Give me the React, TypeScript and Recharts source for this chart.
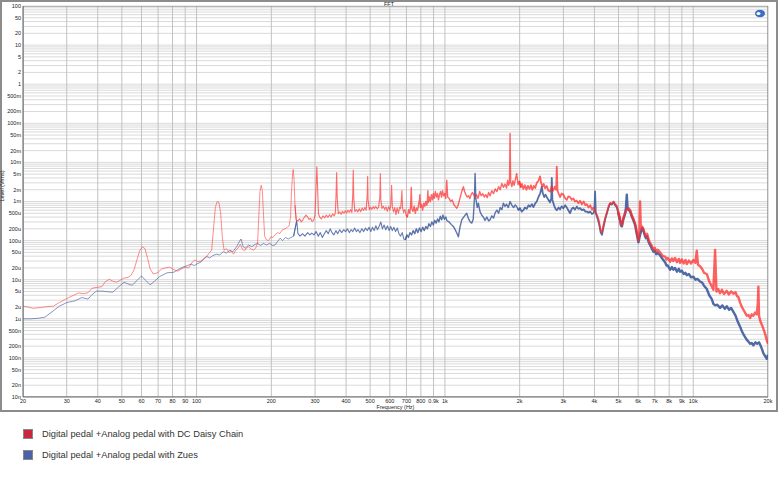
import React from 'react';
import { LineChart, Line, XAxis, YAxis, CartesianGrid, ReferenceArea } from 'recharts';

// Frequency (Hz), level (Vrms)
const DAISY_CHAIN: [number, number][] = [
  [20, 2.1e-6], [21, 2.0e-6], [22, 1.85e-6], [23.5, 1.95e-6], [25, 2.05e-6], [26.5, 2.1e-6], [28, 2.6e-6], [30, 3.3e-6],
  [32, 4.0e-6], [33.5, 4.6e-6], [35, 4.4e-6], [36.5, 4.6e-6], [38, 6.1e-6], [40, 6.4e-6], [41.5, 6.6e-6], [43, 9e-6],
  [44.5, 1.02e-5], [46, 9.2e-6], [47.5, 8.6e-6], [49, 9.5e-6], [51, 1.1e-5], [53, 1.15e-5], [54.5, 1.3e-5], [56, 1.8e-5],
  [57.5, 3.2e-5], [59, 5.5e-5], [60.5, 7.0e-5], [62, 6.2e-5], [63.5, 3.5e-5], [65, 1.9e-5], [67, 1.4e-5], [68.5, 1.45e-5],
  [70, 1.55e-5], [72, 1.85e-5], [75, 2.0e-5], [78, 2.1e-5], [81, 1.8e-5], [84, 1.65e-5], [87, 1.9e-5], [90, 2.1e-5],
  [93, 2.0e-5], [96, 2.8e-5], [98.5, 3.2e-5], [101, 2.9e-5], [104, 3.0e-5], [107, 3.5e-5], [110, 4.0e-5], [113, 5.0e-5],
  [115, 5.7e-5], [117, 2.0e-4], [119, 7.0e-4], [121, 1.0e-3], [123, 9.5e-4], [125, 5.0e-4], [127, 1.2e-4], [129, 5.7e-5],
  [132, 6.2e-5], [135, 5.0e-5], [138, 5.3e-5], [141, 4.5e-5], [144, 5.7e-5], [147, 6.5e-5], [150, 8.0e-5], [153, 6.0e-5],
  [156, 5.5e-5], [159, 6.5e-5], [162, 7.0e-5], [166, 6.0e-5], [170, 5.7e-5], [173, 6.5e-5], [176, 8.5e-5], [178, 4.0e-4],
  [180, 1.8e-3], [182, 2.6e-3], [184, 1.9e-3], [186, 4.5e-4], [188, 1.3e-4], [191, 1.05e-4], [195, 1.0e-4], [199, 1.25e-4],
  [203, 1.2e-4], [207, 1.4e-4], [212, 1.6e-4], [216, 1.5e-4], [222, 1.9e-4], [227, 2.0e-4], [232, 2.2e-4], [236, 2.4e-4],
  [239, 4.0e-4], [241, 1.6e-3], [243.5, 5.0e-3], [245, 6.6e-3], [247, 3.5e-3], [249, 8.0e-4], [252, 3.3e-4], [256, 3.2e-4],
  [260, 3.6e-4], [264, 3.0e-4], [268, 3.4e-4], [272, 4.0e-4], [276, 4.5e-4], [280, 4.0e-4], [284, 3.5e-4], [288, 3.7e-4],
  [292, 3.1e-4], [296, 3.3e-4], [300, 4.5e-4], [302.5, 2.0e-3], [305, 7.7e-3], [307, 2.5e-3], [309.5, 5.0e-4], [313, 4.0e-4],
  [318, 3.6e-4], [323, 4.3e-4], [328, 3.8e-4], [333, 4.5e-4], [338, 3.9e-4], [343, 4.6e-4], [348, 4.0e-4], [353, 4.8e-4],
  [358, 4.3e-4], [362, 5.0e-4], [364.5, 1.5e-3], [366.5, 5.5e-3], [368.5, 1.2e-3], [372, 4.9e-4], [377, 5.4e-4], [382, 4.7e-4],
  [387, 5.6e-4], [392, 5.0e-4], [397, 5.8e-4], [402, 5.1e-4], [407, 6.0e-4], [412, 5.3e-4], [417, 6.2e-4], [422, 5.2e-4],
  [425.5, 1.5e-3], [427.5, 6.4e-3], [429.5, 1.2e-3], [434, 5.5e-4], [440, 6.2e-4], [446, 5.4e-4], [452, 6.5e-4], [458, 5.5e-4],
  [464, 6.8e-4], [470, 5.9e-4], [476, 7.0e-4], [482, 6.0e-4], [486.5, 1.5e-3], [488.5, 4.4e-3], [490.5, 1.1e-3], [496, 6.2e-4],
  [502, 7.1e-4], [508, 6.3e-4], [514, 7.4e-4], [520, 6.5e-4], [527, 7.5e-4], [534, 6.4e-4], [541, 7.3e-4], [547, 1.3e-3],
  [549.5, 5.2e-3], [552, 1.1e-3], [558, 6.6e-4], [565, 7.6e-4], [572, 6.2e-4], [579, 7.3e-4], [586, 5.6e-4], [593, 7.4e-4],
  [600, 6.0e-4], [605, 8.0e-4], [610, 2.6e-3], [614, 7.5e-4], [621, 5.4e-4], [628, 7.0e-4], [635, 4.6e-4], [642, 6.9e-4],
  [650, 5.0e-4], [657, 7.2e-4], [663, 6.5e-4], [667, 1.0e-3], [671, 1.9e-3], [675, 7.0e-4], [682, 5.2e-4], [690, 6.3e-4],
  [698, 4.5e-4], [706, 4.0e-4], [714, 6.2e-4], [722, 5.0e-4], [728, 8.0e-4], [732, 2.3e-3], [736, 6.5e-4], [744, 5.6e-4],
  [752, 7.6e-4], [760, 5.0e-4], [768, 6.8e-4], [776, 6.0e-4], [784, 8.5e-4], [790, 1.1e-3], [793, 1.5e-3], [797, 7.0e-4],
  [805, 8.5e-4], [813, 6.0e-4], [822, 9.0e-4], [830, 7.5e-4], [838, 1.0e-3], [846, 8.0e-4], [851, 1.2e-3], [854, 1.9e-3],
  [858, 9.5e-4], [866, 1.3e-3], [874, 1.0e-3], [882, 1.5e-3], [890, 1.1e-3], [898, 1.6e-3], [906, 1.2e-3], [915, 1.8e-3],
  [924, 1.3e-3], [933, 1.6e-3], [942, 1.1e-3], [951, 1.5e-3], [960, 1.8e-3], [969, 1.3e-3], [978, 1.9e-3], [988, 1.4e-3],
  [998, 1.6e-3], [1008, 1.2e-3], [1017, 3.5e-3], [1026, 1.3e-3], [1040, 1.2e-3], [1055, 1.0e-3], [1070, 1.1e-3], [1085, 8.5e-4],
  [1100, 7.5e-4], [1116, 6.7e-4], [1130, 8.0e-4], [1145, 1.1e-3], [1160, 1.5e-3], [1175, 2.0e-3], [1187, 2.4e-3], [1200, 1.8e-3],
  [1215, 1.5e-3], [1230, 1.3e-3], [1245, 1.4e-3], [1260, 1.2e-3], [1275, 1.5e-3], [1290, 1.7e-3], [1305, 1.5e-3], [1320, 1.3e-3],
  [1340, 1.5e-3], [1360, 1.2e-3], [1380, 1.8e-3], [1400, 1.4e-3], [1420, 1.6e-3], [1440, 1.3e-3], [1460, 1.5e-3], [1480, 1.25e-3],
  [1500, 1.7e-3], [1520, 1.4e-3], [1545, 1.9e-3], [1570, 1.6e-3], [1595, 2.1e-3], [1620, 1.8e-3], [1645, 2.4e-3], [1670, 2.0e-3],
  [1695, 2.9e-3], [1720, 2.3e-3], [1745, 2.8e-3], [1770, 2.2e-3], [1790, 3.5e-3], [1805, 2.6e-3], [1820, 3.0e-3], [1830, 5.5e-2],
  [1840, 3.2e-3], [1860, 2.4e-3], [1880, 3.4e-3], [1900, 2.6e-3], [1925, 3.8e-3], [1946, 5.2e-3], [1970, 2.7e-3], [1995, 3.3e-3],
  [2020, 2.3e-3], [2045, 2.8e-3], [2070, 2.1e-3], [2100, 2.6e-3], [2130, 2.0e-3], [2160, 2.5e-3], [2190, 2.1e-3], [2220, 2.6e-3],
  [2250, 2.0e-3], [2280, 2.5e-3], [2310, 2.2e-3], [2344, 3.0e-3], [2380, 3.4e-3], [2417, 4.4e-3], [2440, 3.0e-3], [2470, 2.4e-3],
  [2500, 2.8e-3], [2530, 2.2e-3], [2571, 2.5e-3], [2610, 1.9e-3], [2652, 1.8e-3], [2690, 2.4e-3], [2730, 1.9e-3], [2770, 2.4e-3],
  [2805, 2.0e-3], [2822, 7.8e-3], [2840, 1.9e-3], [2870, 1.6e-3], [2910, 1.3e-3], [2950, 1.6e-3], [3000, 1.5e-3], [3050, 1.2e-3],
  [3096, 1.1e-3], [3140, 1.35e-3], [3192, 1.3e-3], [3240, 1.1e-3], [3292, 1.2e-3], [3340, 1.0e-3], [3396, 1.05e-3], [3450, 9.0e-4],
  [3502, 1.05e-3], [3560, 8.5e-4], [3620, 1.0e-3], [3680, 8.0e-4], [3726, 8.5e-4], [3790, 7.0e-4], [3850, 8.0e-4], [3910, 6.2e-4],
  [3962, 7.0e-4], [4030, 5.5e-4], [4100, 4.5e-4], [4170, 3.2e-4], [4240, 1.8e-4], [4290, 1.6e-4], [4350, 2.5e-4], [4420, 3.8e-4],
  [4490, 5.2e-4], [4560, 7.5e-4], [4626, 9.2e-4], [4700, 8.8e-4], [4780, 1.0e-3], [4850, 8.5e-4], [4920, 7.8e-4], [4990, 5.5e-4],
  [5060, 3.8e-4], [5120, 2.6e-4], [5160, 2.5e-4], [5230, 3.8e-4], [5316, 5.2e-4], [5400, 6.2e-4], [5480, 6.8e-4], [5568, 6.0e-4],
  [5650, 4.5e-4], [5740, 3.6e-4], [5832, 2.8e-4], [5920, 1.7e-4], [6014, 1.0e-4], [6070, 1.6e-4], [6108, 1.0e-3], [6150, 2.0e-4],
  [6220, 2.3e-4], [6298, 2.0e-4], [6380, 1.5e-4], [6450, 1.3e-4], [6520, 1.5e-4], [6598, 1.1e-4], [6680, 9.0e-5], [6760, 8.0e-5],
  [6830, 7.0e-5], [6912, 6.0e-5], [7000, 6.5e-5], [7100, 5.2e-5], [7200, 5.8e-5], [7354, 5.0e-5], [7450, 4.5e-5], [7550, 4.0e-5],
  [7704, 3.9e-5], [7800, 3.3e-5], [7900, 3.6e-5], [8070, 2.9e-5], [8200, 3.5e-5], [8318, 3.0e-5], [8450, 3.6e-5], [8600, 2.8e-5],
  [8750, 3.4e-5], [8852, 2.7e-5], [9000, 3.3e-5], [9150, 2.6e-5], [9300, 3.2e-5], [9420, 2.5e-5], [9600, 3.1e-5], [9800, 2.6e-5],
  [10012, 3.2e-5], [10200, 2.7e-5], [10334, 5.5e-5], [10450, 2.4e-5], [10654, 2.2e-5], [10850, 1.9e-5], [11050, 1.5e-5], [11338, 1.4e-5],
  [11600, 9.0e-6], [11876, 6.8e-6], [12050, 5.5e-6], [12246, 5.8e-5], [12400, 5.0e-6], [12600, 5.8e-6], [12826, 4.5e-6], [13050, 5.5e-6],
  [13300, 4.3e-6], [13648, 5.2e-6], [13900, 4.2e-6], [14200, 5.0e-6], [14510, 4.4e-6], [14800, 4.8e-6], [15000, 3.8e-6], [15200, 3.6e-6],
  [15440, 2.6e-6], [15700, 2.0e-6], [15920, 1.7e-6], [16200, 1.4e-6], [16430, 1.2e-6], [16700, 1.25e-6], [16942, 1.05e-6], [17200, 1.3e-6],
  [17468, 1.2e-6], [17750, 1.45e-6], [18028, 1.3e-6], [18200, 2.5e-6], [18296, 6.6e-6], [18400, 1.2e-6], [18588, 9.0e-7], [18900, 7.0e-7],
  [19166, 5.5e-7], [19500, 4.0e-7], [19780, 2.8e-7], [20000, 2.3e-7],
];

const ZUES: [number, number][] = [
  [20, 1.0e-6], [21.5, 1.0e-6], [23, 1.03e-6], [24.5, 1.1e-6], [26.5, 1.6e-6], [28, 2.1e-6], [30, 2.6e-6], [32.5, 2.9e-6],
  [34.5, 3.5e-6], [36.5, 3.2e-6], [38, 4.2e-6], [39.5, 5.1e-6], [42, 5.1e-6], [44, 4.9e-6], [46, 4.8e-6], [48.5, 6.5e-6],
  [51, 8.6e-6], [53, 7.8e-6], [55, 7.2e-6], [57.5, 9.5e-6], [60, 1.25e-5], [62.5, 9.5e-6], [65, 7.4e-6], [67.5, 9.0e-6],
  [71, 1.2e-5], [76, 1.5e-5], [81, 1.55e-5], [84, 1.8e-5], [88, 2.1e-5], [92, 2.3e-5], [95, 2.5e-5], [98, 2.3e-5],
  [101, 2.6e-5], [104, 2.8e-5], [107, 3.4e-5], [110, 3.9e-5], [113, 3.6e-5], [116, 4.1e-5], [120, 4.5e-5], [124, 4.3e-5],
  [128, 5.2e-5], [132, 4.8e-5], [136, 5.7e-5], [140, 5.2e-5], [145, 7.0e-5], [148, 9.0e-5], [151, 1.1e-4], [154, 7.0e-5],
  [157, 6.4e-5], [162, 7.7e-5], [167, 7.0e-5], [172, 8.0e-5], [176, 8.5e-5], [181, 7.5e-5], [186, 8.5e-5], [191, 7.7e-5],
  [197, 8.5e-5], [202, 7.5e-5], [207, 7.7e-5], [212, 9.5e-5], [217, 1.15e-4], [222, 1.0e-4], [228, 1.2e-4], [234, 1.1e-4],
  [240, 1.2e-4], [246, 1.3e-4], [250, 2.2e-4], [253, 3.2e-4], [256, 1.5e-4], [261, 1.3e-4], [267, 1.5e-4], [273, 1.3e-4],
  [280, 1.6e-4], [286, 1.4e-4], [291, 1.55e-4], [297, 1.4e-4], [303, 1.7e-4], [309, 1.3e-4], [315, 1.6e-4], [321, 1.2e-4],
  [327, 1.5e-4], [333, 1.8e-4], [339, 1.5e-4], [345, 2.0e-4], [351, 1.6e-4], [357, 1.4e-4], [364, 1.8e-4], [370, 1.5e-4],
  [377, 1.9e-4], [384, 1.6e-4], [391, 1.9e-4], [398, 1.7e-4], [405, 2.0e-4], [412, 1.6e-4], [419, 1.9e-4], [426, 1.7e-4],
  [433, 2.1e-4], [440, 1.7e-4], [447, 1.9e-4], [455, 1.6e-4], [463, 2.0e-4], [471, 1.7e-4], [479, 2.1e-4], [487, 1.8e-4],
  [495, 2.2e-4], [503, 1.7e-4], [511, 2.2e-4], [519, 1.8e-4], [527, 2.4e-4], [535, 1.9e-4], [543, 2.3e-4], [552, 3.0e-4],
  [560, 2.0e-4], [569, 2.5e-4], [578, 1.9e-4], [587, 2.4e-4], [596, 1.8e-4], [605, 2.3e-4], [614, 1.8e-4], [623, 2.2e-4],
  [633, 1.7e-4], [643, 2.1e-4], [653, 1.5e-4], [663, 1.3e-4], [673, 1.6e-4], [683, 1.1e-4], [693, 1.05e-4], [703, 1.4e-4],
  [713, 1.2e-4], [723, 1.6e-4], [734, 1.4e-4], [745, 1.8e-4], [756, 1.5e-4], [767, 2.0e-4], [778, 1.6e-4], [790, 2.1e-4],
  [802, 1.7e-4], [814, 2.2e-4], [826, 1.8e-4], [838, 2.3e-4], [850, 2.0e-4], [862, 2.7e-4], [874, 2.3e-4], [886, 3.0e-4],
  [898, 2.5e-4], [910, 3.3e-4], [922, 2.8e-4], [934, 3.6e-4], [946, 3.0e-4], [958, 4.2e-4], [970, 3.4e-4], [982, 4.5e-4],
  [995, 3.5e-4], [1008, 4.0e-4], [1020, 3.2e-4], [1040, 3.0e-4], [1060, 2.6e-4], [1081, 2.3e-4], [1100, 1.9e-4], [1120, 1.5e-4],
  [1133, 1.25e-4], [1150, 2.2e-4], [1169, 3.4e-4], [1190, 4.0e-4], [1210, 4.6e-4], [1224, 5.0e-4], [1245, 3.6e-4], [1265, 3.0e-4],
  [1283, 2.8e-4], [1300, 3.5e-4], [1315, 1.2e-3], [1323, 5.2e-3], [1332, 1.2e-3], [1350, 7.0e-4], [1364, 9.0e-4], [1385, 5.5e-4],
  [1405, 4.5e-4], [1428, 4.0e-4], [1450, 3.3e-4], [1475, 4.0e-4], [1500, 3.2e-4], [1520, 3.4e-4], [1545, 4.3e-4], [1570, 3.8e-4],
  [1595, 5.2e-4], [1618, 6.0e-4], [1645, 5.0e-4], [1670, 7.0e-4], [1695, 6.2e-4], [1720, 9.0e-4], [1745, 7.5e-4], [1770, 8.5e-4],
  [1800, 7.0e-4], [1830, 1.0e-3], [1860, 8.0e-4], [1890, 7.0e-4], [1920, 8.2e-4], [1946, 7.4e-4], [1975, 6.0e-4], [2005, 6.8e-4],
  [2039, 5.5e-4], [2069, 6.0e-4], [2100, 7.0e-4], [2136, 6.5e-4], [2170, 8.0e-4], [2203, 7.4e-4], [2240, 8.5e-4], [2272, 7.2e-4],
  [2310, 9.0e-4], [2344, 1.0e-3], [2380, 1.3e-3], [2417, 1.6e-3], [2440, 2.0e-3], [2455, 2.4e-3], [2480, 1.6e-3], [2510, 1.3e-3],
  [2540, 1.5e-3], [2571, 1.3e-3], [2610, 1.1e-3], [2652, 9.5e-4], [2680, 1.2e-3], [2694, 4.0e-3], [2710, 1.1e-3], [2750, 8.0e-4],
  [2790, 6.5e-4], [2822, 6.0e-4], [2870, 7.0e-4], [2910, 6.3e-4], [2950, 7.5e-4], [3000, 6.7e-4], [3050, 8.0e-4], [3096, 7.0e-4],
  [3140, 6.0e-4], [3192, 5.0e-4], [3240, 6.5e-4], [3292, 7.0e-4], [3340, 6.2e-4], [3396, 7.4e-4], [3450, 6.5e-4], [3502, 6.8e-4],
  [3560, 6.0e-4], [3620, 6.3e-4], [3680, 5.5e-4], [3726, 5.5e-4], [3790, 5.2e-4], [3850, 5.5e-4], [3910, 4.8e-4], [3962, 5.0e-4],
  [4000, 6.0e-4], [4025, 1.8e-3], [4050, 5.0e-4], [4100, 4.0e-4], [4170, 2.8e-4], [4240, 1.6e-4], [4290, 1.4e-4], [4350, 2.2e-4],
  [4420, 3.5e-4], [4490, 5.0e-4], [4560, 7.0e-4], [4626, 8.8e-4], [4700, 8.4e-4], [4780, 9.5e-4], [4850, 8.0e-4], [4920, 7.2e-4],
  [4990, 5.0e-4], [5060, 3.5e-4], [5120, 2.4e-4], [5160, 2.3e-4], [5230, 3.5e-4], [5316, 4.8e-4], [5360, 7.0e-4], [5400, 1.5e-3],
  [5440, 6.5e-4], [5480, 6.3e-4], [5568, 5.6e-4], [5650, 4.2e-4], [5740, 3.3e-4], [5832, 2.5e-4], [5920, 1.5e-4], [6014, 9.0e-5],
  [6108, 1.4e-4], [6220, 2.1e-4], [6298, 1.8e-4], [6380, 1.35e-4], [6450, 1.15e-4], [6520, 1.3e-4], [6598, 9.5e-5], [6680, 8.0e-5],
  [6760, 7.0e-5], [6830, 6.0e-5], [6912, 5.2e-5], [7000, 5.5e-5], [7100, 4.5e-5], [7200, 4.8e-5], [7354, 4.2e-5], [7450, 3.7e-5],
  [7550, 3.3e-5], [7704, 2.8e-5], [7800, 2.3e-5], [7900, 2.3e-5], [8070, 1.8e-5], [8200, 2.1e-5], [8318, 1.8e-5], [8450, 2.0e-5],
  [8600, 1.6e-5], [8750, 1.9e-5], [8852, 1.6e-5], [9000, 1.7e-5], [9150, 1.4e-5], [9300, 1.5e-5], [9420, 1.3e-5], [9600, 1.4e-5],
  [9800, 1.15e-5], [10012, 1.2e-5], [10200, 1.0e-5], [10400, 1.05e-5], [10654, 9.0e-6], [10850, 8.5e-6], [11050, 7.0e-6], [11338, 5.8e-6],
  [11600, 4.0e-6], [11876, 3.2e-6], [12052, 2.4e-6], [12246, 2.2e-6], [12500, 2.3e-6], [12826, 1.9e-6], [13100, 2.2e-6], [13400, 1.8e-6],
  [13648, 2.1e-6], [13950, 1.7e-6], [14200, 1.9e-6], [14510, 1.5e-6], [14800, 1.2e-6], [15100, 8.5e-7], [15440, 6.3e-7], [15700, 4.8e-7],
  [16000, 3.8e-7], [16430, 2.9e-7], [16700, 2.6e-7], [16942, 2.3e-7], [17200, 2.4e-7], [17468, 2.1e-7], [17800, 2.5e-7], [18100, 2.3e-7],
  [18400, 2.5e-7], [18588, 2.2e-7], [18900, 1.7e-7], [19166, 1.3e-7], [19500, 1.1e-7], [19780, 9.5e-8], [20000, 1.2e-7],
];

const X_TICKS = [20, 30, 40, 50, 60, 70, 80, 90, 100, 200, 300, 400, 500, 600, 700, 800, 900, 1000, 2000, 3000, 4000, 5000, 6000, 7000, 8000, 9000, 10000, 20000];
const X_TICK_LABELS = ['20', '30', '40', '50', '60', '70', '80', '90', '100', '200', '300', '400', '500', '600', '700', '800', '0.9k', '1k', '2k', '3k', '4k', '5k', '6k', '7k', '8k', '9k', '10k', '20k'];

const Y_LABEL_TICKS = [1e-8, 2e-8, 5e-8, 1e-7, 2e-7, 5e-7, 1e-6, 2e-6, 5e-6, 1e-5, 2e-5, 5e-5, 1e-4, 2e-4, 5e-4, 1e-3, 2e-3, 5e-3, 1e-2, 2e-2, 5e-2, 0.1, 0.2, 0.5, 1, 2, 5, 10, 20, 50, 100];
const Y_TICK_LABELS = ['10n', '20n', '50n', '100n', '200n', '500n', '1u', '2u', '5u', '10u', '20u', '50u', '100u', '200u', '500u', '1m', '2m', '5m', '10m', '20m', '50m', '100m', '200m', '500m', '1', '2', '5', '10', '20', '50', '100'];
const Y_DECADES = [1e-8, 1e-7, 1e-6, 1e-5, 1e-4, 1e-3, 1e-2, 0.1, 1, 10];
const Y_MULTIPLIERS = [1, 2, 3, 4, 5, 6, 7, 8, 9];

const SERIES_NAMES = ['Digital pedal +Analog pedal with DC Daisy Chain', 'Digital pedal +Analog pedal with Zues'];

// frequency bands drawn with progressively heavier traces (the FFT trace gets denser upward)
const BAND_EDGES = [20, 250, 700, 2000, 5000, 20000];
const BAND_WIDTHS = [0.9, 1.1, 1.4, 1.8, 2.4];
const RED_OPACITY = [0.6, 0.68, 0.72, 0.75, 0.75];
const BLUE_OPACITY = [0.7, 0.8, 0.85, 0.88, 0.9];

const yGridTicks = [...Y_DECADES.flatMap((d) => Y_MULTIPLIERS.map((m) => Number((m * d).toPrecision(3)))), 100];

const toPoints = (s: [number, number][]) => s.map(([f, v]) => ({ f, v }));
const bandSlice = (s: [number, number][], lo: number, hi: number) => {
  const idx = s.map(([f], i) => (f >= lo && f <= hi ? i : -1)).filter((i) => i >= 0);
  const start = Math.max(0, idx[0] - 1);
  const end = Math.min(s.length - 1, idx[idx.length - 1] + 1);
  return toPoints(s.slice(start, end + 1));
};

const near = (a: number, b: number) => Math.abs(a - b) <= Math.abs(b) * 1e-6;
const fmtX = (v: number) => {
  const i = X_TICKS.findIndex((t) => near(v, t));
  return i >= 0 ? X_TICK_LABELS[i] : '';
};
const fmtY = (v: number) => {
  const i = Y_LABEL_TICKS.findIndex((t) => near(v, t));
  return i >= 0 ? Y_TICK_LABELS[i] : '';
};

const FONT = '"Liberation Sans", Arial, sans-serif';
const RED = '#ff2b2b';
const BLUE = '#3d5a9c';

export default function App() {
  const bands = BAND_WIDTHS.map((w, i) => ({ lo: BAND_EDGES[i], hi: BAND_EDGES[i + 1], w }));
  return (
    <div style={{ position: 'absolute', left: 0, top: 0, width: 778, height: 477, background: '#fff', fontFamily: FONT }}>
      <div style={{ position: 'absolute', left: 0, top: 0, width: 774, height: 408, border: '2px solid #8c8c8c' }} />
      <div style={{ position: 'absolute', left: 0, top: 0, width: 778, height: 410 }}>
        <LineChart width={778} height={410} margin={{ top: 6, right: 10, left: 0, bottom: 0 }}>
          <CartesianGrid horizontal={true} vertical={false} stroke="#dadada" strokeWidth={1} />
          <CartesianGrid horizontal={false} vertical={true} stroke="#c2c2c2" strokeWidth={1} />
          <XAxis
            dataKey="f"
            type="number"
            scale="log"
            domain={[20, 20000]}
            allowDataOverflow
            ticks={X_TICKS}
            interval={0}
            tickFormatter={fmtX}
            tickSize={0}
            tickMargin={2}
            height={13}
            axisLine={{ stroke: '#7a7a7a' }}
            tick={{ fontSize: 5.5, fill: '#222', fontFamily: FONT }}
            label={{ value: 'Frequency (Hz)', position: 'insideBottom', offset: 1, fontSize: 5.5, fill: '#222', fontFamily: FONT }}
          />
          <YAxis
            dataKey="v"
            type="number"
            scale="log"
            domain={[1e-8, 100]}
            allowDataOverflow
            ticks={yGridTicks}
            interval={0}
            tickFormatter={fmtY}
            tickSize={0}
            tickMargin={2}
            width={23}
            axisLine={{ stroke: '#7a7a7a' }}
            tick={{ fontSize: 5.5, fill: '#222', fontFamily: FONT }}
            label={{ value: 'Level (Vrms)', angle: -90, position: 'insideLeft', offset: 2, fontSize: 5.5, fill: '#222', fontFamily: FONT }}
          />
          <ReferenceArea x1={20} x2={20000} y1={1e-8} y2={100} fill="none" stroke="#7a7a7a" strokeWidth={1} ifOverflow="hidden" />
          {bands.map((b, i) => (
            <Line key={`z${i}`} data={bandSlice(ZUES, b.lo, b.hi)} dataKey="v" type="linear" stroke={BLUE} strokeOpacity={BLUE_OPACITY[i]} strokeWidth={b.w} strokeLinejoin="round" dot={false} isAnimationActive={false} />
          ))}
          {bands.map((b, i) => (
            <Line key={`d${i}`} data={bandSlice(DAISY_CHAIN, b.lo, b.hi)} dataKey="v" type="linear" stroke={RED} strokeOpacity={RED_OPACITY[i]} strokeWidth={b.w} strokeLinejoin="round" dot={false} isAnimationActive={false} />
          ))}
        </LineChart>
      </div>
      <div style={{ position: 'absolute', left: 0, top: 0, width: 778, textAlign: 'center', fontSize: 5.5, lineHeight: '6px', color: '#222', paddingTop: 1 }}>FFT</div>
      <svg style={{ position: 'absolute', left: 754, top: 9 }} width={12} height={9}>
        <ellipse cx={6} cy={4.5} rx={5} ry={3.8} fill="#3a6fc4" />
        <ellipse cx={4.5} cy={4.5} rx={2} ry={1.6} fill="#fff" />
      </svg>
      {SERIES_NAMES.map((name, i) => (
        <div key={name} style={{ position: 'absolute', left: 23, top: 428 + i * 21, height: 11, display: 'flex', alignItems: 'center' }}>
          <div style={{ width: 10, height: 10, background: i === 0 ? '#c8283c' : '#4a62a8', border: '0.5px solid #888', boxSizing: 'border-box' }} />
          <span style={{ marginLeft: 9, fontSize: 9.3, color: '#333', whiteSpace: 'nowrap' }}>{name}</span>
        </div>
      ))}
    </div>
  );
}
